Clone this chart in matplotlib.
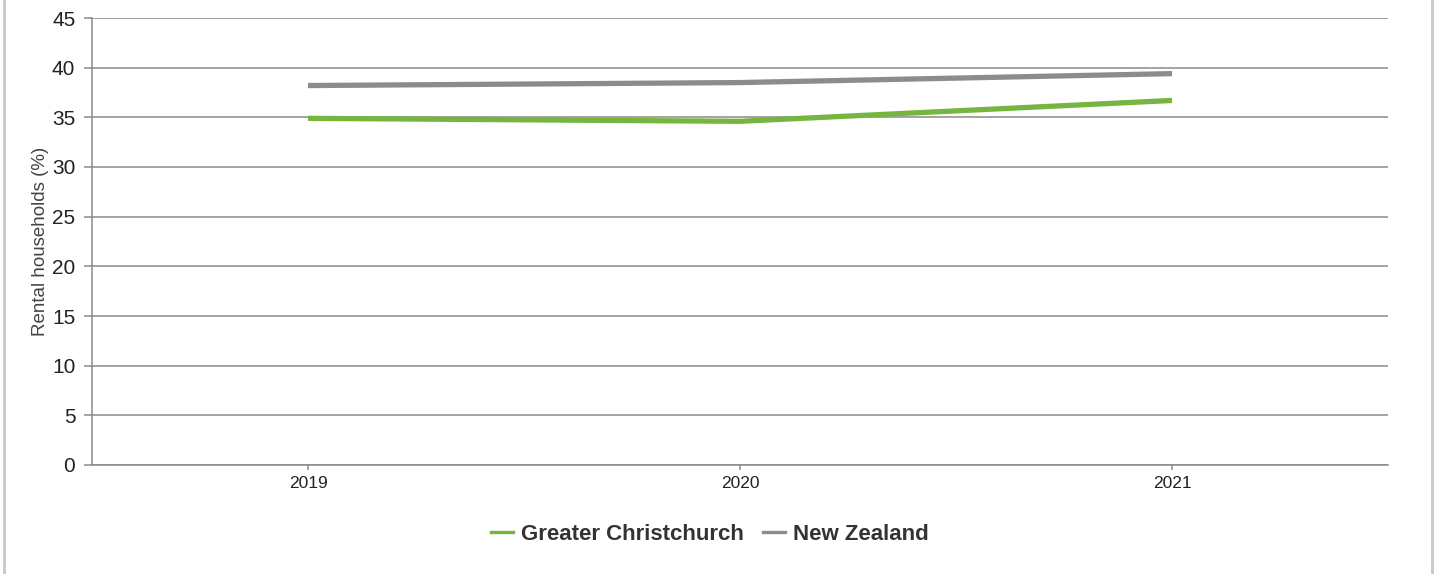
import matplotlib
matplotlib.use("Agg")
import matplotlib.pyplot as plt
from matplotlib.lines import Line2D

# data
years = ["2019", "2020", "2021"]
christchurch = [34.9, 34.6, 36.7]
new_zealand = [38.2, 38.5, 39.4]
y_ticks = [0, 5, 10, 15, 20, 25, 30, 35, 40, 45]

GREEN = "#76b53f"
GREY = "#8c8c8c"
AXIS = "#8a8a8a"

plt.rcParams['font.family'] = ['Liberation Sans', 'DejaVu Sans']

fig = plt.figure(figsize=(14.37, 5.74), dpi=100)
ax = fig.add_axes([92 / 1437, 1 - 465 / 574, 1296 / 1437, 447 / 574])

x = list(range(len(years)))
ax.plot(x, new_zealand, color=GREY, lw=3.8, solid_capstyle='butt', zorder=3)
ax.plot(x, christchurch, color=GREEN, lw=3.8, solid_capstyle='butt', zorder=4)

ax.set_xlim(-0.5, 2.5)
ax.set_ylim(0, 45)
ax.set_yticks(y_ticks)
ax.set_xticks(x)
ax.set_xticklabels(years)

ax.yaxis.grid(True, color=AXIS, lw=1.1)
ax.set_axisbelow(True)
for side in ['top', 'right']:
    ax.spines[side].set_visible(False)
for side in ['left', 'bottom']:
    ax.spines[side].set_color(AXIS)
    ax.spines[side].set_linewidth(1.1)

ax.tick_params(axis='y', length=6, width=1.1, color=AXIS, labelsize=15,
               labelcolor='#222222', pad=6)
ax.tick_params(axis='x', length=3.6, width=1.1, color=AXIS, labelsize=12.5,
               labelcolor='#222222', pad=4)

ax.set_ylabel("Rental households (%)", fontsize=13.5, color='#444444', labelpad=2)

handles = [Line2D([], [], color=GREEN, lw=2.4),
           Line2D([], [], color=GREY, lw=2.4)]
fig.legend(handles, ["Greater Christchurch", "New Zealand"],
           loc='center', bbox_to_anchor=(710 / 1437, 1 - 534 / 574),
           ncol=2, frameon=False, handlelength=1.0, handletextpad=0.35,
           columnspacing=0.85, prop={'weight': 'bold', 'size': 16},
           labelcolor='#333333')

# thin page border at the left and right edges
fig.add_artist(Line2D([4 / 1437, 4 / 1437], [0, 1], color='#c8c8c8', lw=2))
fig.add_artist(Line2D([1432 / 1437, 1432 / 1437], [0, 1], color='#c8c8c8', lw=2))

fig.savefig("out.png", dpi=100)
